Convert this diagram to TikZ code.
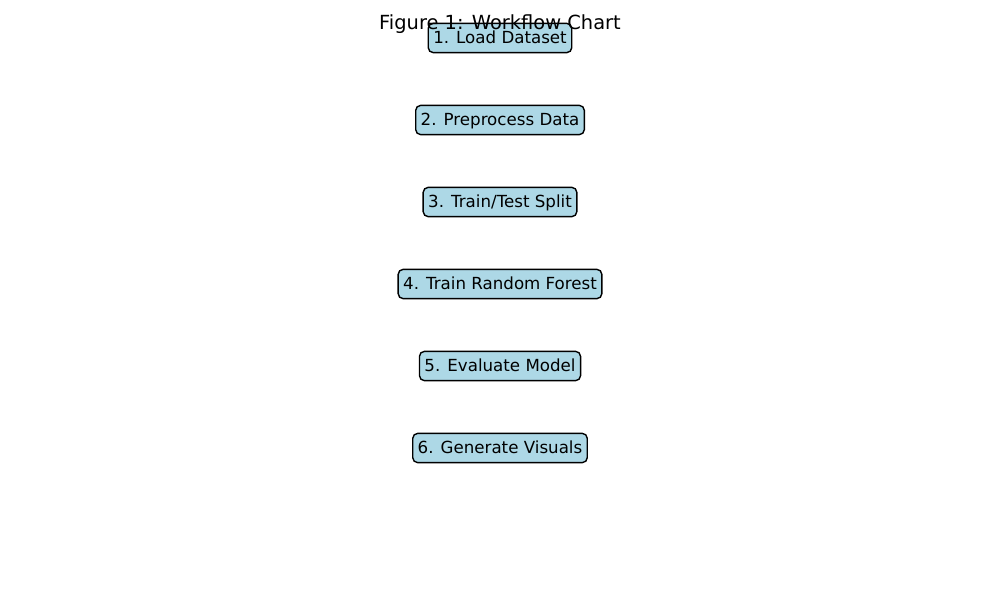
\documentclass[tikz,border=0pt]{standalone}
\usepackage{fontspec}
\setmainfont{DejaVu Sans}
\definecolor{lightblue}{HTML}{ADD8E6}
\begin{document}
\begin{tikzpicture}[x=0.72pt,y=-0.72pt,
  stepbox/.style={draw=black, fill=lightblue, line width=1pt, rounded corners=3.6pt,
    inner xsep=3.6pt, inner ysep=3.6pt, text height=11.1pt, text depth=2.8pt,
    font=\fontsize{12pt}{14pt}\selectfont, anchor=center},
  titletext/.style={font=\fontsize{14pt}{16pt}\selectfont, anchor=center}]
\useasboundingbox (0,0) rectangle (1000,600);
\node[stepbox] (s1) at (500,38) {1. Load Dataset};
\node[stepbox] (s2) at (500,120) {2. Preprocess Data};
\node[stepbox] (s3) at (500,202) {3. Train/Test Split};
\node[stepbox] (s4) at (500,284) {4. Train Random Forest};
\node[stepbox] (s5) at (500,366) {5. Evaluate Model};
\node[stepbox] (s6) at (500,448) {6. Generate Visuals};
\node[titletext] (title) at (500,24) {Figure 1: Workflow Chart};
\end{tikzpicture}
\end{document}
